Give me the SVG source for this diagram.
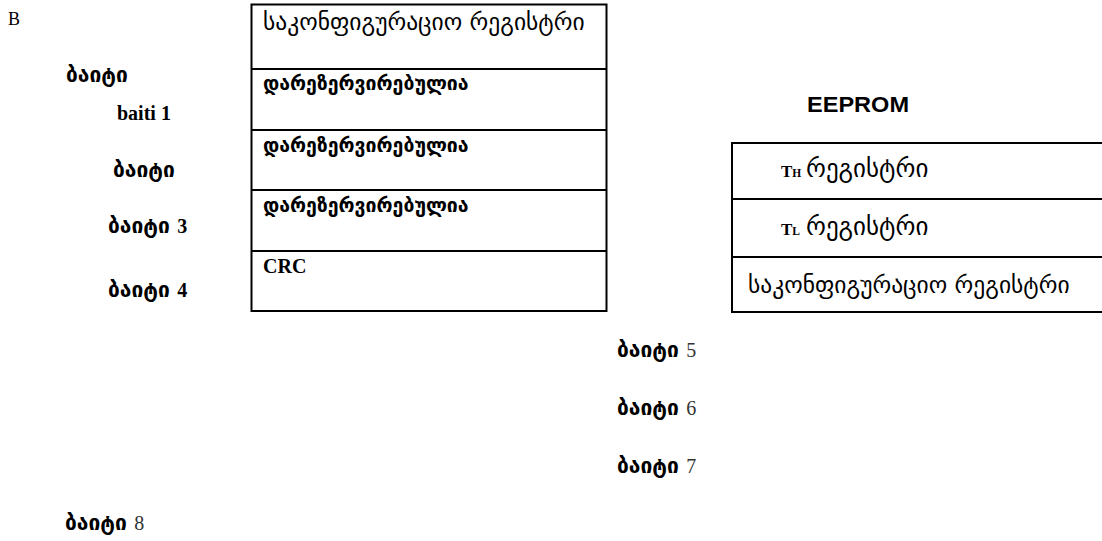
<svg xmlns="http://www.w3.org/2000/svg" width="1102" height="541" viewBox="0 0 1102 541">
  <style>
    .frame { fill: none; stroke: #000; stroke-width: 2; }
    .rule { stroke: #000; stroke-width: 2; }
    .geo { font-family: "DejaVu Sans", "Noto Sans", sans-serif; font-size: 23.5px; fill: #000; }
    .geob { font-family: "DejaVu Sans", "Noto Sans", sans-serif; font-weight: bold; font-size: 21px; fill: #000; }
    .res { font-size: 19.5px; }
    .ser { font-family: "Liberation Serif", "DejaVu Serif", serif; font-size: 18px; fill: #000; }
    .serb { font-family: "Liberation Serif", "DejaVu Serif", serif; font-weight: bold; font-size: 20px; fill: #000; }
    .num { font-family: "Liberation Serif", "DejaVu Serif", serif; font-size: 20px; font-weight: normal; fill: #333; }
    .head { font-family: "Liberation Sans", Arial, sans-serif; font-weight: bold; font-size: 22px; fill: #000; }
    .serb.cap { font-size: 17px; }
    .serb.sub { font-size: 11.5px; }
    .geo.reg { font-size: 25px; }
  </style>

  <text class="ser" x="8" y="25">B</text>

  <!-- byte labels on the left -->
  <g id="byte-labels">
    <text class="geob" x="66" y="82">ბაიტი</text>
    <text class="serb" x="117" y="120">baiti 1</text>
    <text class="geob" x="113" y="177">ბაიტი</text>
    <text class="geob" x="108" y="233">ბაიტი <tspan class="serb">3</tspan></text>
    <text class="geob" x="108" y="297">ბაიტი <tspan class="serb">4</tspan></text>
  </g>

  <!-- scratchpad memory table -->
  <g id="scratchpad">
    <rect class="frame" x="251.5" y="4.5" width="355" height="306.5"/>
    <line class="rule" x1="251.5" y1="69" x2="606.5" y2="69"/>
    <line class="rule" x1="251.5" y1="130" x2="606.5" y2="130"/>
    <line class="rule" x1="251.5" y1="190" x2="606.5" y2="190"/>
    <line class="rule" x1="251.5" y1="251" x2="606.5" y2="251"/>
    <text class="geo" x="263" y="30">საკონფიგურაციო რეგისტრი</text>
    <text class="geob res" x="263" y="90">დარეზერვირებულია</text>
    <text class="geob res" x="263" y="152">დარეზერვირებულია</text>
    <text class="geob res" x="263" y="212">დარეზერვირებულია</text>
    <text class="serb" x="263" y="273">CRC</text>
  </g>

  <!-- EEPROM table -->
  <g id="eeprom">
    <text class="head" x="807" y="112" textLength="102" lengthAdjust="spacingAndGlyphs">EEPROM</text>
    <polyline class="frame" points="1104,143 732,143 732,312 1104,312"/>
    <line class="rule" x1="732" y1="199" x2="1104" y2="199"/>
    <line class="rule" x1="732" y1="257" x2="1104" y2="257"/>
    <text x="781" y="177"><tspan class="serb cap">T</tspan><tspan class="serb sub">H</tspan><tspan class="geo reg" x="806">რეგისტრი</tspan></text>
    <text x="781" y="235"><tspan class="serb cap">T</tspan><tspan class="serb sub">L</tspan><tspan class="geo reg" x="806">რეგისტრი</tspan></text>
    <text class="geo" x="748" y="293">საკონფიგურაციო რეგისტრი</text>
  </g>

  <!-- byte labels 5-8 -->
  <g id="byte-labels-lower">
    <text class="geob" x="617" y="357">ბაიტი <tspan class="num">5</tspan></text>
    <text class="geob" x="617" y="415">ბაიტი <tspan class="num">6</tspan></text>
    <text class="geob" x="617" y="473">ბაიტი <tspan class="num">7</tspan></text>
    <text class="geob" x="65" y="530">ბაიტი <tspan class="num">8</tspan></text>
  </g>
</svg>
